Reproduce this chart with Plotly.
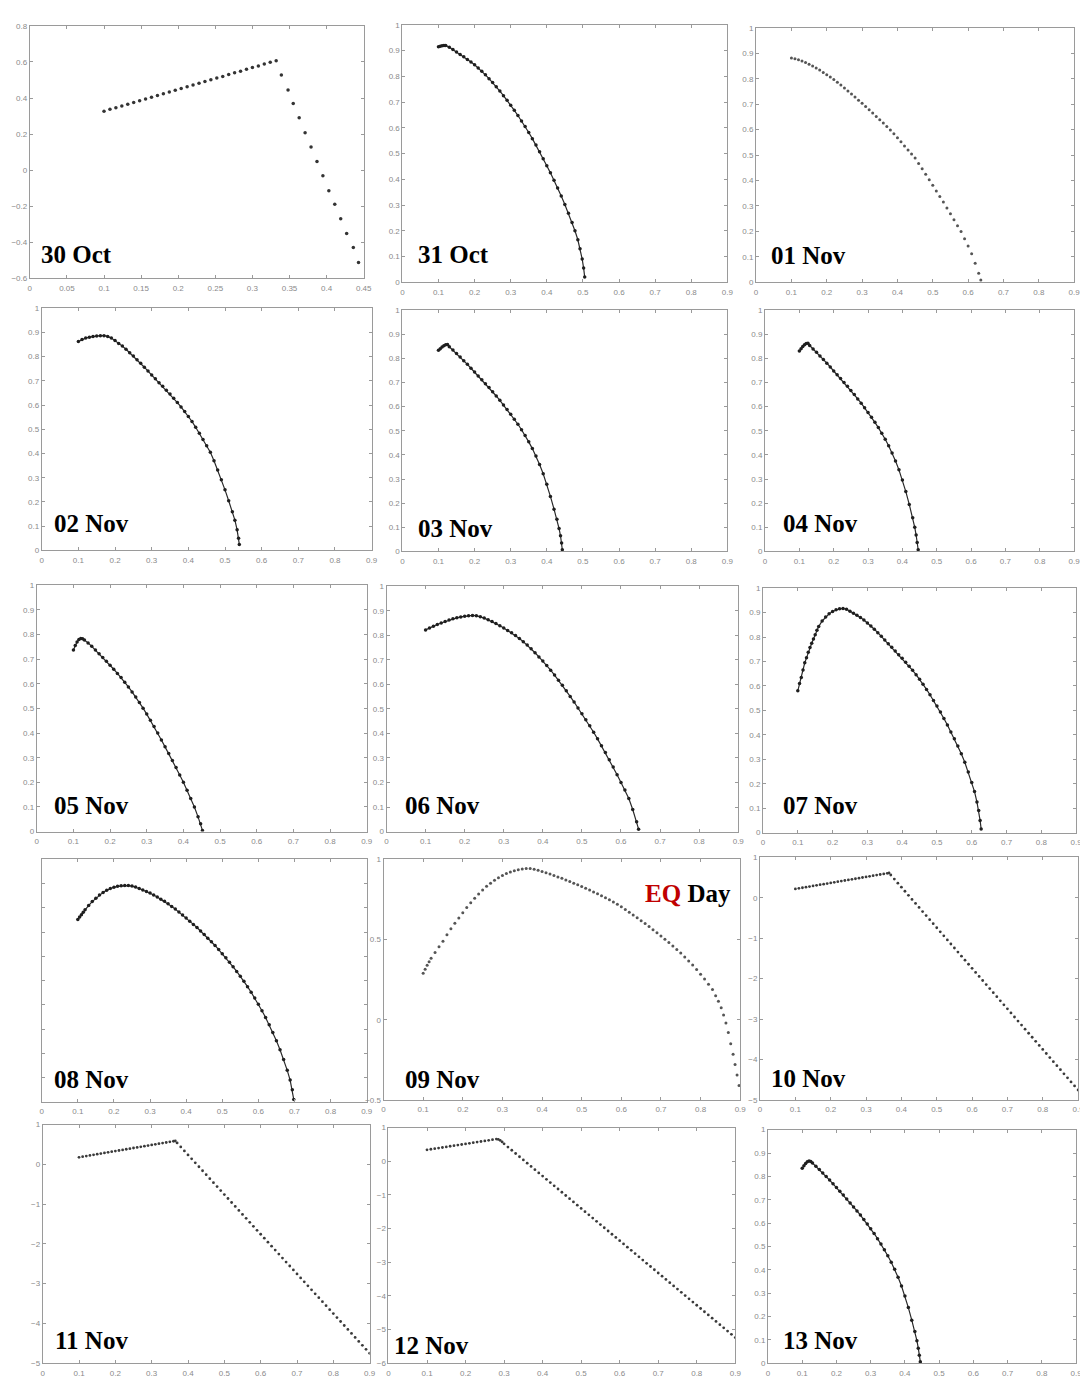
import plotly.graph_objects as go

# ---------------- data ----------------
oct30_x = [0.100, 0.108, 0.116, 0.124, 0.132, 0.140, 0.148, 0.156, 0.164, 0.172, 0.180, 0.188, 0.196, 0.204, 0.212,
           0.220, 0.228, 0.236, 0.244, 0.252, 0.260, 0.268, 0.276, 0.284, 0.292, 0.300, 0.308, 0.316, 0.324, 0.332,
           0.339, 0.348, 0.355, 0.363, 0.371, 0.379, 0.387, 0.395, 0.403, 0.411, 0.419, 0.427, 0.436, 0.443]
oct30_y = [0.327, 0.337, 0.346, 0.356, 0.366, 0.375, 0.385, 0.395, 0.404, 0.414, 0.424, 0.433, 0.443, 0.453, 0.462,
           0.472, 0.482, 0.491, 0.501, 0.511, 0.520, 0.530, 0.540, 0.549, 0.559, 0.569, 0.578, 0.588, 0.598, 0.607,
           0.528, 0.444, 0.369, 0.290, 0.207, 0.128, 0.048, -0.031, -0.114, -0.190, -0.270, -0.352, -0.430, -0.512]

oct31_x = [0.100, 0.105, 0.110, 0.115, 0.120,
           0.13, 0.14, 0.15, 0.16, 0.17, 0.18, 0.19, 0.20, 0.21, 0.22,
           0.23, 0.24, 0.25, 0.26, 0.27, 0.28, 0.29, 0.30, 0.31, 0.32,
           0.33, 0.34, 0.35, 0.36, 0.37, 0.38, 0.39, 0.40, 0.41, 0.42,
           0.43, 0.44, 0.45, 0.46, 0.47,
           0.478, 0.486, 0.492, 0.498, 0.502, 0.505]
oct31_y = [0.915, 0.917, 0.919, 0.920, 0.920,
           0.913, 0.904, 0.895, 0.885, 0.876, 0.866, 0.856, 0.845, 0.833, 0.820,
           0.806, 0.791, 0.776, 0.760, 0.743, 0.725, 0.707, 0.688, 0.668, 0.648,
           0.627, 0.605, 0.582, 0.558, 0.533, 0.507, 0.480, 0.453, 0.425, 0.396,
           0.366, 0.335, 0.302, 0.268, 0.232,
           0.200, 0.165, 0.130, 0.090, 0.055, 0.020]

nov01_x = [0.10, 0.11, 0.12, 0.13, 0.14, 0.15, 0.16, 0.17, 0.18, 0.19,
           0.20, 0.21, 0.22, 0.23, 0.24, 0.25, 0.26, 0.27, 0.28, 0.29,
           0.30, 0.31, 0.32, 0.33, 0.34, 0.35, 0.36, 0.37, 0.38, 0.39,
           0.40, 0.41, 0.42, 0.43, 0.44, 0.45, 0.46, 0.47, 0.48, 0.49,
           0.50, 0.51, 0.52, 0.53, 0.54, 0.55, 0.56, 0.57, 0.58, 0.59,
           0.60, 0.61, 0.62, 0.63, 0.636]
nov01_y = [0.882, 0.879, 0.875, 0.870, 0.864, 0.857, 0.850, 0.842, 0.834, 0.825,
           0.816, 0.807, 0.797, 0.786, 0.775, 0.764, 0.752, 0.740, 0.728, 0.716,
           0.704, 0.691, 0.678, 0.665, 0.652, 0.639, 0.626, 0.612, 0.599, 0.584,
           0.568, 0.552, 0.536, 0.520, 0.504, 0.488, 0.467, 0.446, 0.425, 0.403,
           0.381, 0.359, 0.337, 0.315, 0.292, 0.269, 0.246, 0.222, 0.199, 0.171,
           0.142, 0.112, 0.075, 0.035, 0.009]

nov02_x = [0.10, 0.11, 0.12, 0.13, 0.14, 0.15, 0.16, 0.17, 0.18, 0.19,
           0.20, 0.21, 0.22, 0.23, 0.24, 0.25, 0.26, 0.27, 0.28, 0.29,
           0.30, 0.31, 0.32, 0.33, 0.34, 0.35, 0.36, 0.37, 0.38, 0.39,
           0.40, 0.41, 0.42, 0.43, 0.44, 0.45, 0.46, 0.47, 0.48, 0.49,
           0.50, 0.51, 0.52, 0.527, 0.533, 0.537, 0.539]
nov02_y = [0.862, 0.870, 0.876, 0.880, 0.883, 0.885, 0.886, 0.886, 0.883, 0.876,
           0.866, 0.854, 0.843, 0.830, 0.816, 0.802, 0.787, 0.772, 0.756, 0.740,
           0.724, 0.708, 0.692, 0.677, 0.661, 0.645, 0.628, 0.610, 0.592, 0.573,
           0.553, 0.532, 0.508, 0.483, 0.458, 0.432, 0.405, 0.370, 0.332, 0.292,
           0.250, 0.205, 0.160, 0.125, 0.085, 0.050, 0.025]

nov03_x = [0.100, 0.105, 0.110, 0.115, 0.120, 0.125,
           0.13, 0.14, 0.15, 0.16, 0.17, 0.18, 0.19, 0.20, 0.21, 0.22,
           0.23, 0.24, 0.25, 0.26, 0.27, 0.28, 0.29, 0.30, 0.31, 0.32,
           0.33, 0.34, 0.35, 0.36, 0.37, 0.38, 0.39, 0.40, 0.41, 0.42,
           0.428, 0.434, 0.438, 0.441, 0.443]
nov03_y = [0.833, 0.840, 0.847, 0.852, 0.856, 0.857,
           0.848, 0.834, 0.820, 0.805, 0.790, 0.775, 0.759, 0.743, 0.727, 0.711,
           0.695, 0.679, 0.662, 0.644, 0.626, 0.607, 0.588, 0.568, 0.548, 0.527,
           0.504, 0.480, 0.454, 0.426, 0.395, 0.360, 0.322, 0.278, 0.228, 0.175,
           0.133, 0.095, 0.065, 0.035, 0.007]

nov04_x = [0.100, 0.105, 0.110, 0.115, 0.120, 0.125,
           0.13, 0.14, 0.15, 0.16, 0.17, 0.18, 0.19, 0.20, 0.21, 0.22,
           0.23, 0.24, 0.25, 0.26, 0.27, 0.28, 0.29, 0.30, 0.31, 0.32,
           0.33, 0.34, 0.35, 0.36, 0.37, 0.38, 0.39, 0.40, 0.41, 0.42,
           0.430, 0.436, 0.440, 0.443, 0.446]
nov04_y = [0.830, 0.840, 0.849, 0.856, 0.861, 0.862,
           0.853, 0.839, 0.825, 0.810, 0.795, 0.780, 0.764, 0.748, 0.732, 0.716,
           0.700, 0.684, 0.667, 0.650, 0.632, 0.614, 0.595, 0.576, 0.556, 0.535,
           0.513, 0.490, 0.465, 0.438, 0.408, 0.375, 0.338, 0.296, 0.248, 0.195,
           0.140, 0.100, 0.068, 0.037, 0.007]

nov05_x = [0.100, 0.105, 0.110, 0.115, 0.120, 0.125,
           0.13, 0.14, 0.15, 0.16, 0.17, 0.18, 0.19, 0.20, 0.21, 0.22,
           0.23, 0.24, 0.25, 0.26, 0.27, 0.28, 0.29, 0.30, 0.31, 0.32,
           0.33, 0.34, 0.35, 0.36, 0.37, 0.38, 0.39, 0.40, 0.41, 0.42,
           0.43, 0.44, 0.447, 0.452]
nov05_y = [0.737, 0.755, 0.770, 0.780, 0.784, 0.783,
           0.778, 0.766, 0.752, 0.737, 0.722, 0.707, 0.691, 0.675, 0.659, 0.642,
           0.625, 0.606, 0.587, 0.567, 0.546, 0.524, 0.501, 0.477, 0.452, 0.427,
           0.400, 0.372, 0.344, 0.317, 0.289, 0.260, 0.230, 0.200, 0.168, 0.134,
           0.100, 0.060, 0.032, 0.005]

nov06_x = [0.10, 0.11, 0.12, 0.13, 0.14, 0.15, 0.16, 0.17, 0.18, 0.19,
           0.20, 0.21, 0.22, 0.23, 0.24, 0.25, 0.26, 0.27, 0.28, 0.29,
           0.30, 0.31, 0.32, 0.33, 0.34, 0.35, 0.36, 0.37, 0.38, 0.39,
           0.40, 0.41, 0.42, 0.43, 0.44, 0.45, 0.46, 0.47, 0.48, 0.49,
           0.50, 0.51, 0.52, 0.53, 0.54, 0.55, 0.56, 0.57, 0.58, 0.59,
           0.60, 0.61, 0.62, 0.63, 0.64, 0.645]
nov06_y = [0.822, 0.830, 0.837, 0.844, 0.850, 0.856, 0.862, 0.867, 0.871, 0.875,
           0.878, 0.880, 0.881, 0.880, 0.876, 0.870, 0.863, 0.856, 0.848, 0.839,
           0.830, 0.820, 0.810, 0.799, 0.787, 0.774, 0.760, 0.745, 0.729, 0.712,
           0.695, 0.677, 0.658, 0.638, 0.617, 0.596, 0.574, 0.551, 0.528, 0.504,
           0.480, 0.456, 0.431, 0.405, 0.378, 0.350, 0.322, 0.293, 0.263, 0.232,
           0.200, 0.170, 0.135, 0.090, 0.040, 0.010]

nov07_x = [0.100, 0.105, 0.110, 0.115, 0.120, 0.125, 0.130, 0.135, 0.140, 0.145, 0.150, 0.155, 0.160,
           0.17, 0.18, 0.19, 0.20, 0.21, 0.22, 0.23, 0.24, 0.25, 0.26,
           0.27, 0.28, 0.29, 0.30, 0.31, 0.32, 0.33, 0.34, 0.35, 0.36,
           0.37, 0.38, 0.39, 0.40, 0.41, 0.42, 0.43, 0.44, 0.45, 0.46,
           0.47, 0.48, 0.49, 0.50, 0.51, 0.52, 0.53, 0.54, 0.55, 0.56,
           0.57, 0.58, 0.59, 0.60,
           0.608, 0.615, 0.620, 0.624, 0.627]
nov07_y = [0.580, 0.610, 0.635, 0.665, 0.695, 0.715, 0.738, 0.757, 0.775, 0.792, 0.810, 0.828, 0.843,
           0.866, 0.882, 0.895, 0.905, 0.912, 0.916, 0.917, 0.914, 0.906, 0.898,
           0.889, 0.880, 0.870, 0.858, 0.845, 0.832, 0.818, 0.803, 0.788, 0.773,
           0.758, 0.743, 0.728, 0.713, 0.697, 0.681, 0.664, 0.646, 0.627, 0.607,
           0.586, 0.564, 0.541, 0.518, 0.493, 0.467, 0.440, 0.412, 0.384, 0.354,
           0.323, 0.288, 0.248, 0.205,
           0.168, 0.125, 0.090, 0.050, 0.015]

nov08_x = [0.100, 0.105, 0.110, 0.115, 0.120,
           0.13, 0.14, 0.15, 0.16, 0.17, 0.18, 0.19, 0.20, 0.21, 0.22,
           0.23, 0.24, 0.25, 0.26, 0.27, 0.28, 0.29, 0.30, 0.31, 0.32,
           0.33, 0.34, 0.35, 0.36, 0.37, 0.38, 0.39, 0.40, 0.41, 0.42,
           0.43, 0.44, 0.45, 0.46, 0.47, 0.48, 0.49, 0.50, 0.51, 0.52,
           0.53, 0.54, 0.55, 0.56, 0.57, 0.58, 0.59, 0.60, 0.61, 0.62,
           0.63, 0.64, 0.65, 0.66, 0.67, 0.68,
           0.688, 0.694, 0.698]
nov08_y = [0.752, 0.762, 0.772, 0.782, 0.792,
           0.810, 0.826, 0.840, 0.853, 0.864, 0.873, 0.880, 0.885, 0.889, 0.891,
           0.892, 0.892, 0.890, 0.886, 0.880, 0.874, 0.868, 0.861, 0.853, 0.845,
           0.836, 0.827, 0.817, 0.806, 0.795, 0.783, 0.771, 0.758, 0.745, 0.732,
           0.719, 0.705, 0.690, 0.675, 0.660, 0.645, 0.628, 0.611, 0.594, 0.576,
           0.557, 0.538, 0.518, 0.497, 0.475, 0.452, 0.428, 0.403, 0.376, 0.348,
           0.318, 0.286, 0.252, 0.215, 0.175, 0.130,
           0.090, 0.050, 0.010]

nov09_x = [0.100, 0.105, 0.110, 0.115, 0.120,
           0.13, 0.14, 0.15, 0.16, 0.17, 0.18, 0.19, 0.20, 0.21, 0.22,
           0.23, 0.24, 0.25, 0.26, 0.27, 0.28, 0.29, 0.30, 0.31, 0.32,
           0.33, 0.34, 0.35, 0.36, 0.37, 0.38, 0.39, 0.40, 0.41, 0.42,
           0.43, 0.44, 0.45, 0.46, 0.47, 0.48, 0.49, 0.50, 0.51, 0.52,
           0.53, 0.54, 0.55, 0.56, 0.57, 0.58, 0.59, 0.60, 0.61, 0.62,
           0.63, 0.64, 0.65, 0.66, 0.67, 0.68, 0.69, 0.70, 0.71, 0.72,
           0.73, 0.74, 0.75, 0.76, 0.77, 0.78, 0.79, 0.80, 0.81, 0.82,
           0.83,
           0.838, 0.845, 0.852, 0.858, 0.864, 0.870, 0.876, 0.882, 0.887, 0.892, 0.897]
nov09_y = [0.290, 0.315, 0.340, 0.362, 0.383,
           0.420, 0.455, 0.490, 0.530, 0.568, 0.602, 0.635, 0.668, 0.700, 0.730,
           0.758, 0.785, 0.810, 0.832, 0.852, 0.870, 0.886, 0.900, 0.912, 0.922,
           0.930, 0.936, 0.940, 0.943, 0.944, 0.939, 0.932, 0.925, 0.917, 0.909,
           0.900, 0.891, 0.882, 0.872, 0.862, 0.852, 0.842, 0.831, 0.820, 0.809,
           0.797, 0.786, 0.774, 0.761, 0.748, 0.735, 0.720, 0.704, 0.688, 0.671,
           0.654, 0.636, 0.618, 0.600, 0.581, 0.562, 0.542, 0.522, 0.502, 0.481,
           0.460, 0.438, 0.416, 0.392, 0.367, 0.341, 0.313, 0.284, 0.254, 0.222,
           0.188,
           0.150, 0.115, 0.075, 0.030, -0.020, -0.080, -0.150, -0.215, -0.280, -0.345, -0.410]

nov10_x = [0.10, 0.11, 0.12, 0.13, 0.14, 0.15, 0.16, 0.17, 0.18, 0.19,
           0.20, 0.21, 0.22, 0.23, 0.24, 0.25, 0.26, 0.27, 0.28, 0.29,
           0.30, 0.31, 0.32, 0.33, 0.34, 0.35, 0.36, 0.365,
           0.37, 0.38, 0.39, 0.40, 0.41, 0.42, 0.43, 0.44, 0.45, 0.46,
           0.47, 0.48, 0.49, 0.50, 0.51, 0.52, 0.53, 0.54, 0.55, 0.56,
           0.57, 0.58, 0.59, 0.60, 0.61, 0.62, 0.63, 0.64, 0.65, 0.66,
           0.67, 0.68, 0.69, 0.70, 0.71, 0.72, 0.73, 0.74, 0.75, 0.76,
           0.77, 0.78, 0.79, 0.80, 0.81, 0.82, 0.83, 0.84, 0.85, 0.86,
           0.87, 0.88, 0.89, 0.90]
nov10_y = [0.220, 0.235, 0.250, 0.265, 0.280, 0.295, 0.310, 0.325, 0.339, 0.354,
           0.369, 0.384, 0.399, 0.414, 0.429, 0.444, 0.458, 0.473, 0.488, 0.503,
           0.518, 0.533, 0.548, 0.563, 0.578, 0.593, 0.607, 0.615,
           0.565, 0.464, 0.364, 0.264, 0.163, 0.063, -0.038, -0.138, -0.238, -0.339,
           -0.439, -0.540, -0.640, -0.740, -0.841, -0.941, -1.042, -1.142, -1.242, -1.343,
           -1.443, -1.544, -1.644, -1.744, -1.845, -1.945, -2.046, -2.146, -2.246, -2.347,
           -2.447, -2.548, -2.648, -2.748, -2.849, -2.949, -3.050, -3.150, -3.250, -3.351,
           -3.451, -3.552, -3.652, -3.752, -3.853, -3.953, -4.054, -4.154, -4.254, -4.355,
           -4.455, -4.556, -4.656, -4.756]

nov11_x = [0.10, 0.11, 0.12, 0.13, 0.14, 0.15, 0.16, 0.17, 0.18, 0.19,
           0.20, 0.21, 0.22, 0.23, 0.24, 0.25, 0.26, 0.27, 0.28, 0.29,
           0.30, 0.31, 0.32, 0.33, 0.34, 0.35, 0.36, 0.365,
           0.37, 0.38, 0.39, 0.40, 0.41, 0.42, 0.43, 0.44, 0.45, 0.46,
           0.47, 0.48, 0.49, 0.50, 0.51, 0.52, 0.53, 0.54, 0.55, 0.56,
           0.57, 0.58, 0.59, 0.60, 0.61, 0.62, 0.63, 0.64, 0.65, 0.66,
           0.67, 0.68, 0.69, 0.70, 0.71, 0.72, 0.73, 0.74, 0.75, 0.76,
           0.77, 0.78, 0.79, 0.80, 0.81, 0.82, 0.83, 0.84, 0.85, 0.86,
           0.87, 0.88, 0.89, 0.90]
nov11_y = [0.180, 0.196, 0.211, 0.227, 0.242, 0.258, 0.273, 0.289, 0.304, 0.320,
           0.335, 0.351, 0.366, 0.382, 0.397, 0.413, 0.428, 0.444, 0.459, 0.475,
           0.490, 0.506, 0.521, 0.537, 0.552, 0.568, 0.583, 0.590,
           0.540, 0.440, 0.340, 0.240, 0.141, 0.041, -0.059, -0.159, -0.259, -0.359,
           -0.459, -0.558, -0.658, -0.758, -0.858, -0.958, -1.058, -1.158, -1.257, -1.357,
           -1.457, -1.557, -1.657, -1.757, -1.857, -1.956, -2.056, -2.156, -2.256, -2.356,
           -2.456, -2.556, -2.655, -2.755, -2.855, -2.955, -3.055, -3.155, -3.255, -3.354,
           -3.454, -3.554, -3.654, -3.754, -3.854, -3.953, -4.053, -4.153, -4.253, -4.353,
           -4.453, -4.553, -4.652, -4.752]

nov12_x = [0.10, 0.11, 0.12, 0.13, 0.14, 0.15, 0.16, 0.17, 0.18, 0.19,
           0.20, 0.21, 0.22, 0.23, 0.24, 0.25, 0.26, 0.27, 0.28, 0.285, 0.29, 0.295, 0.30,
           0.31, 0.32, 0.33, 0.34, 0.35, 0.36, 0.37, 0.38, 0.39, 0.40,
           0.41, 0.42, 0.43, 0.44, 0.45, 0.46, 0.47, 0.48, 0.49, 0.50,
           0.51, 0.52, 0.53, 0.54, 0.55, 0.56, 0.57, 0.58, 0.59, 0.60,
           0.61, 0.62, 0.63, 0.64, 0.65, 0.66, 0.67, 0.68, 0.69, 0.70,
           0.71, 0.72, 0.73, 0.74, 0.75, 0.76, 0.77, 0.78, 0.79, 0.80,
           0.81, 0.82, 0.83, 0.84, 0.85, 0.86, 0.87, 0.88, 0.89, 0.90]
nov12_y = [0.340, 0.358, 0.376, 0.393, 0.411, 0.429, 0.447, 0.464, 0.482, 0.500,
           0.518, 0.536, 0.553, 0.571, 0.589, 0.607, 0.624, 0.642, 0.660, 0.650, 0.620, 0.575, 0.520,
           0.424, 0.328, 0.232, 0.136, 0.040, -0.056, -0.152, -0.248, -0.344, -0.440,
           -0.536, -0.632, -0.728, -0.824, -0.920, -1.016, -1.112, -1.208, -1.304, -1.400,
           -1.496, -1.592, -1.688, -1.784, -1.880, -1.976, -2.072, -2.168, -2.264, -2.360,
           -2.456, -2.552, -2.648, -2.744, -2.840, -2.936, -3.032, -3.128, -3.224, -3.320,
           -3.416, -3.512, -3.608, -3.704, -3.800, -3.896, -3.992, -4.088, -4.184, -4.280,
           -4.376, -4.472, -4.568, -4.664, -4.760, -4.856, -4.952, -5.048, -5.144, -5.240]

nov13_x = [0.100, 0.105, 0.110, 0.115, 0.120, 0.125,
           0.13, 0.14, 0.15, 0.16, 0.17, 0.18, 0.19, 0.20, 0.21, 0.22,
           0.23, 0.24, 0.25, 0.26, 0.27, 0.28, 0.29, 0.30, 0.31, 0.32,
           0.33, 0.34, 0.35, 0.36, 0.37, 0.38, 0.39, 0.40, 0.41, 0.42,
           0.429, 0.435, 0.439, 0.442, 0.445]
nov13_y = [0.835, 0.845, 0.855, 0.862, 0.866, 0.864,
           0.857, 0.843, 0.829, 0.814, 0.799, 0.784, 0.768, 0.752, 0.736, 0.720,
           0.703, 0.686, 0.669, 0.652, 0.634, 0.615, 0.596, 0.576, 0.555, 0.533,
           0.510, 0.486, 0.460, 0.432, 0.402, 0.368, 0.330, 0.287, 0.238, 0.184,
           0.135, 0.096, 0.064, 0.034, 0.006]

day_labels = ["30 Oct", "31 Oct", "01 Nov", "02 Nov", "03 Nov", "04 Nov", "05 Nov", "06 Nov",
              "07 Nov", "08 Nov", "09 Nov", "10 Nov", "11 Nov", "12 Nov", "13 Nov"]
series_x = [oct30_x, oct31_x, nov01_x, nov02_x, nov03_x, nov04_x, nov05_x, nov06_x,
            nov07_x, nov08_x, nov09_x, nov10_x, nov11_x, nov12_x, nov13_x]
series_y = [oct30_y, oct31_y, nov01_y, nov02_y, nov03_y, nov04_y, nov05_y, nov06_y,
            nov07_y, nov08_y, nov09_y, nov10_y, nov11_y, nov12_y, nov13_y]

x_ticks_09 = [0, 0.1, 0.2, 0.3, 0.4, 0.5, 0.6, 0.7, 0.8, 0.9]
x_ticks_045 = [0, 0.05, 0.1, 0.15, 0.2, 0.25, 0.3, 0.35, 0.4, 0.45]
y_ticks_01 = [0, 0.1, 0.2, 0.3, 0.4, 0.5, 0.6, 0.7, 0.8, 0.9, 1]
y_ticks_oct30 = [-0.6, -0.4, -0.2, 0, 0.2, 0.4, 0.6, 0.8]
y_ticks_nov09 = [-0.5, 0, 0.5, 1]
y_ticks_nov10 = [-5, -4, -3, -2, -1, 0, 1]
y_ticks_nov12 = [-6, -5, -4, -3, -2, -1, 0, 1]

# ---------------- layout / style per panel ----------------
W, H = 1088, 1378
# (left, right, top, bottom) in pixels
boxes = [(20, 357, 14, 268), (396, 724, 13, 272), (753, 1074, 16, 272),
         (32, 365, 298, 542), (396, 724, 300, 543), (762, 1074, 300, 543),
         (27, 360, 577, 825), (380, 735, 578, 825), (760, 1076, 580, 826),
         (32, 360, 853, 1097), (377, 737, 853, 1095), (757, 1078, 851, 1095),
         (33, 363, 1120, 1360), (382, 732, 1123, 1360), (765, 1076, 1125, 1360)]
xcfg = [(x_ticks_045, [0, 0.45])] + [(x_ticks_09, [0, 0.9])] * 14
ycfg = [(y_ticks_oct30, [-0.6, 0.8]), (y_ticks_01, [0, 1]), (y_ticks_01, [0, 1]),
        (y_ticks_01, [0, 1]), (y_ticks_01, [0, 1]), (y_ticks_01, [0, 1]),
        (y_ticks_01, [0, 1]), (y_ticks_01, [0, 1]), (y_ticks_01, [0, 1]),
        (y_ticks_01, [0, 1]), (y_ticks_nov09, [-0.5, 1]), (y_ticks_nov10, [-5, 1]),
        (y_ticks_nov10, [-5, 1]), (y_ticks_nov12, [-6, 1]), (y_ticks_01, [0, 1])]
show_ylabels = [True] * 15
show_ylabels[9] = False
styles = ["sparse", "line", "dots", "line", "line", "line", "line", "line",
          "line", "line", "dots", "dense", "dense", "dense", "line"]
label_pos = [(29, 244), (410, 244), (766, 245), (42, 515), (410, 520), (778, 515),
             (42, 799), (397, 799), (778, 799), (42, 1075), (397, 1075), (766, 1074),
             (43, 1337), (386, 1342), (778, 1337)]

fig = go.Figure()
layout = dict(width=W, height=H, margin=dict(l=0, r=0, t=0, b=0),
              paper_bgcolor="white", plot_bgcolor="white", showlegend=False)

tick_font = dict(family="Liberation Sans, Arial, sans-serif", size=8, color="#8a8a8a")

for i in range(15):
    n = "" if i == 0 else str(i + 1)
    l, r, t, b = boxes[i]
    xt, xr = xcfg[i]
    yt, yr = ycfg[i]
    st = styles[i]
    if st == "line":
        tr = go.Scatter(x=series_x[i], y=series_y[i], mode="lines+markers",
                        line=dict(color="#2a2a2a", width=1.2),
                        marker=dict(size=3.5, color="#1e1e1e"))
    elif st == "sparse":
        tr = go.Scatter(x=series_x[i], y=series_y[i], mode="markers",
                        marker=dict(size=3.5, color="#333333"))
    elif st == "dots":
        tr = go.Scatter(x=series_x[i], y=series_y[i], mode="markers",
                        marker=dict(size=3, color="#555555"))
    else:
        tr = go.Scatter(x=series_x[i], y=series_y[i], mode="markers",
                        marker=dict(size=2.8, color="#3a3a3a"))
    tr.update(xaxis="x" + n, yaxis="y" + n, hoverinfo="skip")
    fig.add_trace(tr)

    common = dict(showline=True, linecolor="#9a9a9a", linewidth=1, mirror="ticks",
                  ticks="inside", ticklen=3, tickcolor="#9a9a9a", showgrid=False,
                  zeroline=False, tickfont=tick_font)
    layout["xaxis" + n] = dict(common, domain=[l / W, r / W], range=xr, tickvals=xt,
                               anchor="y" + n, ticklabelstandoff=2)
    layout["yaxis" + n] = dict(common, domain=[1 - b / H, 1 - t / H], range=yr, tickvals=yt,
                               anchor="x" + n, showticklabels=show_ylabels[i])

annotations = []
label_font = dict(family="Liberation Serif, Times New Roman, serif", size=25, color="black", weight="bold")
for i, (px, py) in enumerate(label_pos):
    annotations.append(dict(text=day_labels[i], x=px / W, y=1 - py / H, xref="paper", yref="paper",
                            xanchor="left", yanchor="middle", showarrow=False, font=label_font))
annotations.append(dict(text="<span style='color:#c00000'>EQ</span> Day", x=639 / W, y=1 - 887 / H,
                        xref="paper", yref="paper", xanchor="left", yanchor="middle", showarrow=False,
                        font=label_font))
layout["annotations"] = annotations
fig.update_layout(**layout)
fig.write_html("out.html")
